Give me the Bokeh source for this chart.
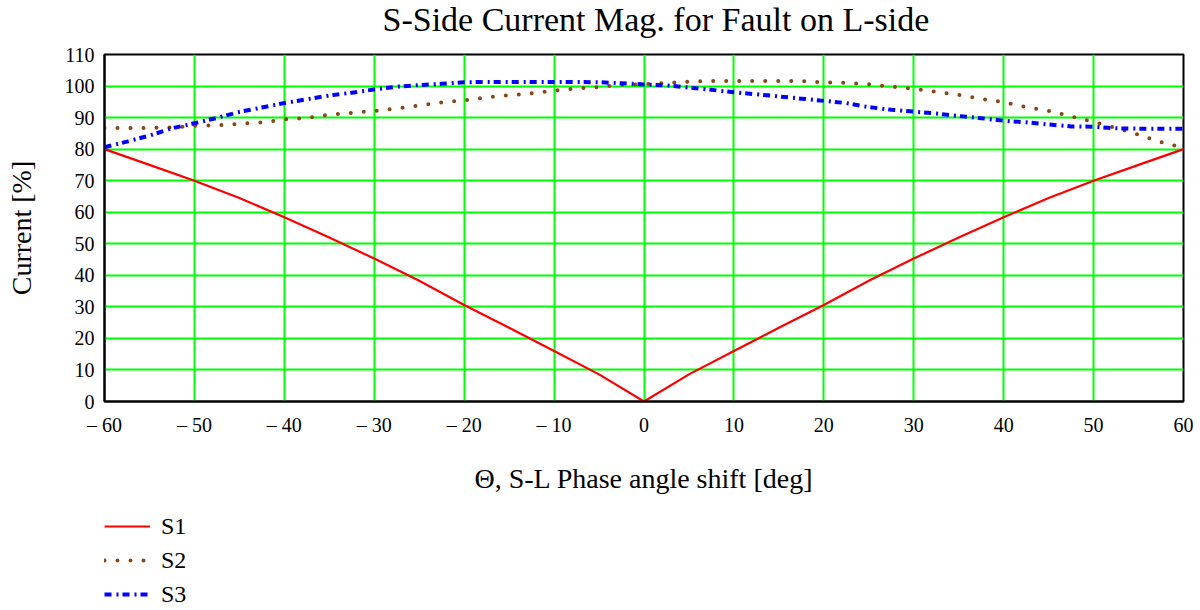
from bokeh.plotting import figure
from bokeh.layouts import column
from bokeh.models import FixedTicker, Legend, LegendItem, Range1d
from bokeh.embed import file_html
from bokeh.resources import INLINE

# ---- data ----
theta_s1 = [-60, -55, -50, -45, -40, -35, -30, -25, -20, -15, -10, -5, 0,
            5, 10, 15, 20, 25, 30, 35, 40, 45, 50, 55, 60]
s1 = [80.0, 75.0, 70.0, 64.5, 58.4, 52.0, 45.3, 38.3, 30.6, 23.4, 16.0, 8.6, 0.0,
      8.6, 16.0, 23.4, 30.6, 38.3, 45.3, 52.0, 58.4, 64.5, 70.0, 75.0, 80.0]

theta = [-60, -57.5, -55, -52.5, -50, -47.5, -45, -42.5, -40, -37.5, -35, -32.5,
         -30, -27.5, -25, -22.5, -20, -17.5, -15, -12.5, -10, -7.5, -5, -2.5,
         0, 2.5, 5, 7.5, 10, 12.5, 15, 17.5, 20, 22.5, 25, 27.5,
         30, 32.5, 35, 37.5, 40, 42.5, 45, 47.5, 50, 52.5, 55, 57.5, 60]
s2 = [86.7, 86.7, 86.7, 86.9, 87.4, 87.6, 88.0, 88.5, 89.4, 89.9, 90.9, 91.5,
      92.1, 92.9, 93.8, 94.8, 95.5, 96.4, 97.1, 97.7, 98.6, 99.2, 99.7, 100.4,
      100.6, 101.0, 101.4, 101.6, 101.6, 101.6, 101.6, 101.6, 101.2, 101.0, 100.6, 99.8,
      99.1, 98.2, 97.2, 95.9, 94.9, 93.3, 92.1, 90.4, 88.6, 86.7, 84.6, 82.2, 80.4]
s3 = [80.6, 82.4, 84.3, 86.6, 88.2, 89.9, 91.8, 93.2, 94.6, 95.8, 97.0, 97.9,
      98.9, 99.8, 100.3, 100.7, 101.2, 101.3, 101.3, 101.3, 101.3, 101.3, 101.2, 100.9,
      100.5, 100.2, 99.5, 98.8, 98.0, 97.4, 96.7, 96.0, 95.3, 94.6, 93.3, 92.5,
      91.9, 91.3, 90.5, 89.8, 89.0, 88.5, 87.8, 87.2, 87.1, 86.6, 86.5, 86.5, 86.5]

x_ticks = [-60, -50, -40, -30, -20, -10, 0, 10, 20, 30, 40, 50, 60]
x_tick_labels = ["\u2013 60", "\u2013 50", "\u2013 40", "\u2013 30", "\u2013 20", "\u2013 10",
                 "0", "10", "20", "30", "40", "50", "60"]
y_ticks = [0, 10, 20, 30, 40, 50, 60, 70, 80, 90, 100, 110]

title_text = "S-Side Current Mag. for Fault on L-side"
x_label = "\u0398, S-L Phase angle shift [deg]"
y_label = "Current [%]"
series_names = ["S1", "S2", "S3"]

FONT = "Liberation Serif"
STYLES = [dict(line_color="#FF0000", line_width=2.2),
          dict(line_color="#8B4513", line_width=4, line_dash="0 13", line_cap="round"),
          dict(line_color="#0000FF", line_width=4, line_dash="7 5 2 4")]
SERIES = [(theta_s1, s1), (theta, s2), (theta, s3)]

# ---- title strip ----
h = figure(width=1200, height=41, output_backend="svg", toolbar_location=None,
           x_range=Range1d(0, 1), y_range=Range1d(0, 1),
           min_border_left=104, min_border_right=17, min_border_top=0,
           min_border_bottom=0)
h.axis.visible = False
h.grid.visible = False
h.outline_line_color = None
h.title.text = title_text
h.title.align = "left"
h.title.offset = 278
h.title.vertical_align = "top"
h.title.text_font = FONT
h.title.text_font_size = "34px"
h.title.text_font_style = "normal"
h.title.text_color = "black"
h.title.standoff = 0

# ---- main chart ----
p = figure(width=1200, height=471, output_backend="svg", toolbar_location=None,
           x_range=Range1d(-60, 60), y_range=Range1d(0, 110),
           min_border_left=104, min_border_right=17, min_border_top=13,
           min_border_bottom=111)

p.xgrid.ticker = FixedTicker(ticks=x_ticks)
p.ygrid.ticker = FixedTicker(ticks=y_ticks)
for g in (p.xgrid, p.ygrid):
    g.grid_line_color = "#00FF00"
    g.grid_line_width = 2
    g.grid_line_alpha = 1.0

p.outline_line_color = "black"
p.outline_line_width = 2
p.outline_line_alpha = 1.0

p.xaxis.ticker = FixedTicker(ticks=x_ticks)
p.xaxis.major_label_overrides = {t: l for t, l in zip(x_ticks, x_tick_labels)}
p.yaxis.ticker = FixedTicker(ticks=y_ticks)
for ax in (p.xaxis, p.yaxis):
    ax.axis_line_color = "black"
    ax.axis_line_width = 2
    ax.major_tick_line_color = None
    ax.minor_tick_line_color = None
    ax.major_label_text_font = FONT
    ax.major_label_text_font_size = "20px"
    ax.major_label_text_color = "black"
    ax.axis_label_text_font = FONT
    ax.axis_label_text_font_size = "28px"
    ax.axis_label_text_font_style = "normal"
    ax.axis_label_text_color = "black"
p.xaxis.axis_label = x_label
p.yaxis.axis_label = y_label
p.xaxis.major_label_standoff = 6
p.yaxis.major_label_standoff = 4
p.xaxis.axis_label_standoff = 24
p.yaxis.axis_label_standoff = 25

for (xs, ys), st in zip(SERIES, STYLES):
    p.line(xs, ys, **st)

# ---- legend strip below the chart (same series, drawn outside its visible range) ----
q = figure(width=1200, height=98, output_backend="svg", toolbar_location=None,
           x_range=Range1d(-60, 60), y_range=Range1d(500, 501),
           min_border_left=104, min_border_right=17, min_border_top=0,
           min_border_bottom=0)
q.axis.visible = False
q.grid.visible = False
q.outline_line_color = None
legend_renderers = [q.line(xs, ys, **st) for (xs, ys), st in zip(SERIES, STYLES)]

legend = Legend(items=[LegendItem(label=n, renderers=[r])
                       for n, r in zip(series_names, legend_renderers)],
                location="top_left", orientation="vertical",
                glyph_width=46, glyph_height=28, label_height=28,
                spacing=6, padding=0, margin=0, label_standoff=11,
                border_line_color=None, background_fill_alpha=0,
                label_text_font=FONT, label_text_font_size="24px",
                label_text_color="black")
q.add_layout(legend)

layout = column(h, p, q, spacing=0)
open("out.html", "w").write(file_html(layout, INLINE))
